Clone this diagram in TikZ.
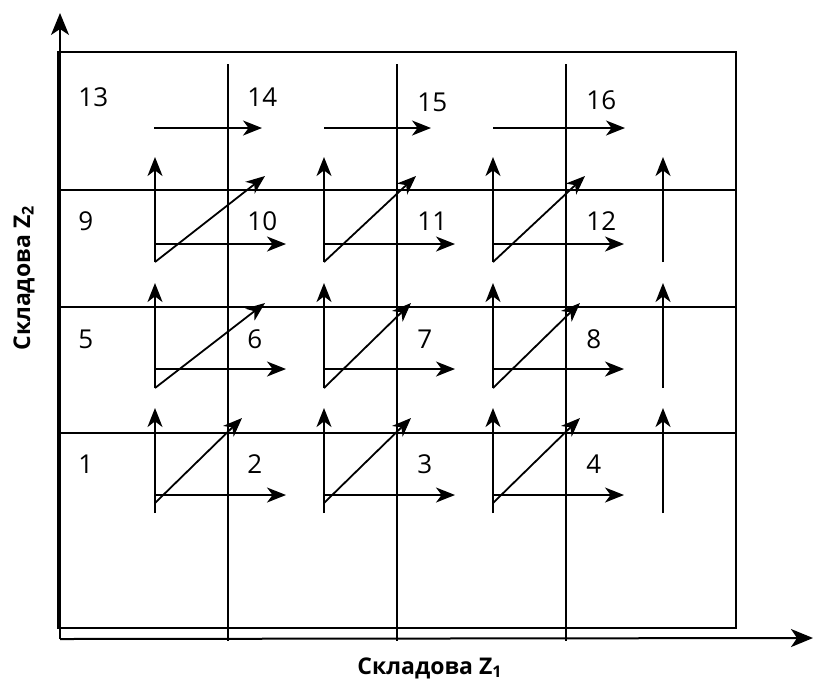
\documentclass[tikz,border=0pt]{standalone}
\usepackage{fontspec}
\setmainfont{Open Sans}
\usetikzlibrary{arrows.meta}

\begin{document}
\begin{tikzpicture}[x=0.5pt,y=-0.5pt,every node/.style={font=\fontsize{13}{15}\selectfont,inner sep=0pt},
        num/.style={anchor=west},
        axlbl/.style={font=\fontsize{11.5}{13}\selectfont\bfseries},
        ax/.style={line width=1pt,-{Stealth[length=11pt,width=9pt,inset=3pt]}},
        arr/.style={line width=0.9pt,-{Stealth[length=9.5pt,width=7.5pt,inset=2.8pt]}},
        grd/.style={line width=0.9pt}]
      \useasboundingbox (0,0) rectangle (813,682);
      % frame and grid
      \draw[line width=1.2pt] (58,52) rectangle (736,628);
      \foreach \y in {190,307,433} \draw[grd] (58,\y) -- (736,\y);
      \foreach \x in {228,397,566} \draw[grd] (\x,64) -- (\x,641);
      % axes
      \coordinate (o) at (60,639);
      \coordinate (ztop) at (60,13);
      \coordinate (zend) at (813,638);
      \draw[ax] (o)--(ztop); \draw[ax] (o)--(zend);
      \node[axlbl] (z1) at (430,668) {Складова Z\textsubscript{1}};
      \node[axlbl,rotate=90] (z2) at (24,278) {Складова Z\textsubscript{2}};
      % cell numbers
      \foreach \n/\x/\y in {1/78/464,2/247/464,3/417/464,4/586/464,
                            5/78/339,6/247/339,7/417/339,8/586/339,
                            9/78/221,10/247/221,11/417/221,12/586/221,
                            13/78/97,14/247/97,15/417/102,16/586/100}
        \node[num] (n\n) at (\x,\y) {\n};
      % top row
      \foreach \c/\xa/\xb in {1/154/262,2/324/431,3/493/625} {
        \coordinate (ta\c) at (\xa,128); \coordinate (tb\c) at (\xb,128);
        \draw[arr] (ta\c)--(tb\c);
      }
      % moves: up, right, diagonal
      \foreach \g/\yb/\yh/\yt/\yd/\yq/\ta/\tb/\tc in {A/262/244/157/262/176/265/416/585,
                                                 B/388/369/283/388/303/265/411/580,
                                                 C/513/495/408/503/418/242/411/580} {
        \foreach \c/\x/\tx in {1/155/\ta,2/324/\tb,3/493/\tc} {
          \coordinate (b\g\c) at (\x,\yb); \coordinate (u\g\c) at (\x,\yt);
          \coordinate (h\g\c) at (\x,\yh); \coordinate (r\g\c) at (\x+131,\yh);
          \coordinate (d\g\c) at (\x,\yd); \coordinate (q\g\c) at (\tx,\yq);
          \draw[arr] (b\g\c)--(u\g\c);
          \draw[arr] (h\g\c)--(r\g\c);
          \draw[arr] (d\g\c)--(q\g\c);
        }
        \coordinate (b\g4) at (663,\yb); \coordinate (u\g4) at (663,\yt);
        \draw[arr] (b\g4)--(u\g4);
      }
    \end{tikzpicture}
\end{document}
